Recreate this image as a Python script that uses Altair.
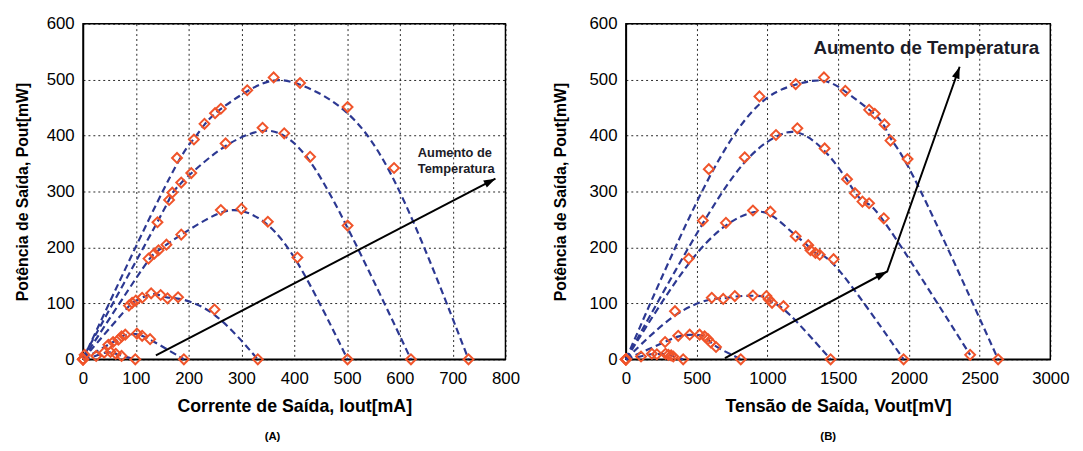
import math
import altair as alt
import pandas as pd

# ---------------- Panel A: Pout [mW] vs Iout [mA] ----------------
a1_i = [0, 178, 210, 230, 250, 261, 311, 361, 411, 501, 589, 730]
a1_p = [0, 360, 393, 421, 440, 448, 481, 504, 494, 451, 342, 0]
a2_i = [3, 141, 163, 169, 186, 205, 270, 340, 381, 430, 501, 621]
a2_p = [8, 245, 285, 298, 316, 333, 386, 414, 404, 362, 239, 0]
a3_i = [0, 124, 135, 143, 158, 186, 261, 300, 350, 406, 501]
a3_p = [0, 180, 189, 195, 205, 223, 267, 269, 246, 182, 0]
a4_i = [0, 87, 93, 100, 112, 129, 147, 160, 180, 249, 331]
a4_p = [0, 96, 101, 105, 110, 118, 115, 109, 111, 89, 0]
a5_i = [0, 48, 57, 67, 73, 80, 102, 112, 127, 191]
a5_p = [0, 26, 31, 35, 41, 44, 46, 42, 36, 0]
a6_i = [0, 25, 40, 52, 62, 73, 99]
a6_p = [0, 6, 12, 13, 10, 6, 0]

# ---------------- Panel B: Pout [mW] vs Vout [mV] ----------------
b1_v = [0, 586, 944, 1200, 1400, 1551, 1719, 1759, 1828, 1870, 1991, 2631]
b1_p = [0, 340, 470, 492, 504, 480, 446, 439, 420, 391, 358, 0]
b2_v = [0, 544, 840, 1061, 1212, 1405, 1563, 1619, 1672, 1719, 1823, 2433]
b2_p = [0, 248, 361, 401, 413, 377, 322, 297, 282, 279, 252, 8]
b3_v = [0, 444, 707, 898, 1021, 1200, 1289, 1305, 1340, 1370, 1468, 1963]
b3_p = [0, 180, 244, 266, 264, 220, 204, 195, 190, 187, 179, 0]
b4_v = [0, 347, 607, 688, 770, 898, 993, 1010, 1033, 1114, 1447]
b4_p = [0, 86, 110, 108, 113, 114, 113, 107, 101, 95, 0]
b5_v = [0, 277, 370, 451, 521, 556, 580, 600, 637, 812]
b5_p = [0, 31, 42, 44, 44, 41, 36, 30, 22, 0]
b6_v = [0, 107, 184, 219, 280, 300, 320, 335, 405]
b6_p = [0, 5, 10, 9, 10, 8, 7, 5, 0]

# ---------------- Annotations ----------------
arrow_a_x = [138, 781]
arrow_a_p = [7, 323]
text_a = ["Aumento de", "Temperatura"]
text_a_x = [634, 634]
text_a_p = [369, 340]

arrow_b_x = [700, 1847, 2359]
arrow_b_p = [2, 157, 523]
text_b = ["Aumento de Temperatura"]
text_b_x = [1326]
text_b_p = [557]

FONT = "Liberation Sans"
BLUE = "#2c3892"
ORANGE = "#f0542a"
WA, WB, H = 428, 430, 340
Y_MAX = 600
ARROW_PATH = "M0,0L-0.3,0.9L0.3,0.9Z"


def curves_df(pairs):
    rows = []
    for k, (xs, ps) in enumerate(pairs, start=1):
        for x, p in zip(xs, ps):
            rows.append({"curve": k, "x": x, "p": p})
    return pd.DataFrame(rows)


def heads_df(xs, ps, xmax, width):
    rows = []
    for i in range(1, len(xs)):
        dx = (xs[i] - xs[i - 1]) * width / xmax
        dy = -(ps[i] - ps[i - 1]) * H / Y_MAX
        ang = math.degrees(math.atan2(dx, -dy)) % 360
        rows.append({"x": xs[i], "p": ps[i], "ang": ang})
    return pd.DataFrame(rows)


def panel(df, xmax, xstep, width, xtitle, ytp, arr_x, arr_p, txt, txt_x, txt_p, fs, sub, sub_dx):
    xs = alt.Scale(domain=[0, xmax], nice=False)
    ys = alt.Scale(domain=[0, Y_MAX], nice=False)
    xaxis = alt.Axis(title=xtitle, values=list(range(0, xmax + 1, xstep)), format="d",
                     labelFlush=False)
    yaxis = alt.Axis(title="Potência de Saída, Pout[mW]", values=list(range(0, Y_MAX + 1, 100)),
                     format="d", titlePadding=ytp)
    base = alt.Chart(df)
    lines = base.mark_line(
        interpolate="basis", strokeDash=[7, 4], strokeWidth=2.2, color=BLUE
    ).encode(
        x=alt.X("x:Q", scale=xs, axis=xaxis),
        y=alt.Y("p:Q", scale=ys, axis=yaxis),
        detail="curve:N",
    )
    pts = base.mark_point(
        shape="diamond", size=100, filled=False, strokeWidth=2, color=ORANGE, opacity=1
    ).encode(x="x:Q", y="p:Q")
    adf = pd.DataFrame({"x": arr_x, "p": arr_p, "o": list(range(len(arr_x)))})
    arrow = alt.Chart(adf).mark_line(color="black", strokeWidth=2).encode(
        x="x:Q", y="p:Q", order="o:Q"
    )
    heads = alt.Chart(heads_df(arr_x, arr_p, xmax, width)).mark_point(
        shape=ARROW_PATH, size=700, filled=True, color="black", opacity=1, strokeWidth=0
    ).encode(x="x:Q", y="p:Q", angle=alt.Angle("ang:Q", scale=None))
    tdf = pd.DataFrame({"x": txt_x, "p": txt_p, "t": txt})
    texts = alt.Chart(tdf).mark_text(
        align="left", baseline="middle", font=FONT, fontWeight="bold",
        fontSize=fs, color="#1c1c28"
    ).encode(x="x:Q", y="p:Q", text="t:N")
    return alt.layer(lines, pts, arrow, heads, texts).properties(
        width=width, height=H,
        title=alt.TitleParams(text=sub, orient="bottom", fontSize=11.5, fontWeight="bold",
                              font=FONT, color="black", dx=sub_dx, offset=16, anchor="middle"),
    )


df_a = curves_df([(a1_i, a1_p), (a2_i, a2_p), (a3_i, a3_p), (a4_i, a4_p), (a5_i, a5_p), (a6_i, a6_p)])
df_b = curves_df([(b1_v, b1_p), (b2_v, b2_p), (b3_v, b3_p), (b4_v, b4_p), (b5_v, b5_p), (b6_v, b6_p)])

left = panel(df_a, 800, 100, WA, "Corrente de Saída, Iout[mA]", 16,
             arrow_a_x, arrow_a_p, text_a, text_a_x, text_a_p, 13, "(A)", -22)
right = panel(df_b, 3000, 500, WB, "Tensão de Saída, Vout[mV]", 21,
              arrow_b_x, arrow_b_p, text_b, text_b_x, text_b_p, 19, "(B)", -10)

chart = alt.hconcat(left, right, spacing=31).properties(
    padding={"left": 5, "top": 3, "right": 5, "bottom": 5}
).configure_view(
    stroke="black", strokeWidth=1.5
).configure_axis(
    labelFont=FONT, labelFontSize=17, labelColor="black",
    titleFont=FONT, titleFontWeight="bold", titleColor="black",
    ticks=False, domainColor="black", domainWidth=1.5,
    grid=True, gridColor="black", gridDash=[2, 3], gridWidth=1, gridOpacity=0.85,
).configure_axisY(
    labelPadding=9, titleFontSize=16
).configure_axisX(
    labelPadding=12, titlePadding=11, titleFontSize=18
)

chart.save("out.html", embed_options={"renderer": "svg", "actions": False})
